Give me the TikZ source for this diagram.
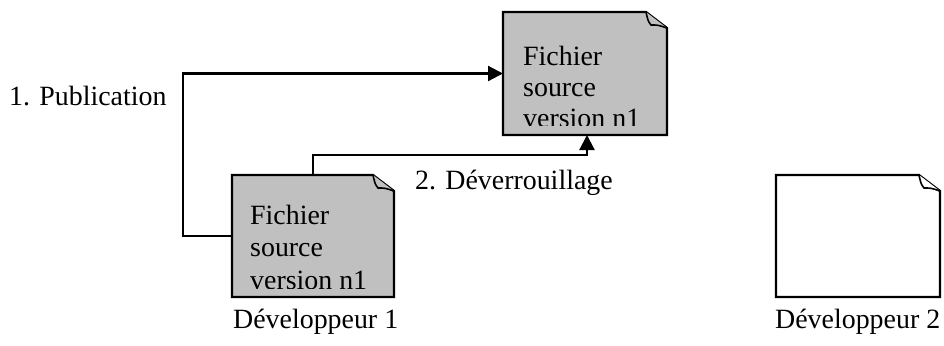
\documentclass[tikz,border=0pt]{standalone}
\usepackage{fontspec}
\setmainfont{Liberation Serif}
\usetikzlibrary{arrows.meta,calc}
\definecolor{docgray}{HTML}{C0C0C0}
\tikzset{
  docnode/.style={inner sep=0pt, outer sep=0pt, draw=none},
  docline/.style={draw=black, line width=2.2bp, line join=miter},
  conn/.style={draw=black, line width=2.2bp, -{Triangle[length=15bp,width=15bp]}},
  lbl/.style={inner sep=0pt, anchor=base west, font=\fontsize{28pt}{32pt}\selectfont},
}
\newcommand\docdraw[2]{% name, fill
  \path[docline, fill=#2] (#1.north west) -- ([xshift=-21bp]#1.north east)
    -- ([yshift=-16bp]#1.north east) -- (#1.south east) -- (#1.south west) -- cycle;
  \path[docline, fill=#2, line width=1.6bp] ([xshift=-21bp]#1.north east)
    .. controls ([xshift=-19bp,yshift=-9bp]#1.north east) .. ([xshift=-16bp,yshift=-13bp]#1.north east)
    .. controls ([xshift=-9bp,yshift=-13bp]#1.north east) .. ([yshift=-16bp]#1.north east);
}
\begin{document}
\begin{tikzpicture}[x=1bp,y=-1bp]
\useasboundingbox (0,0) rectangle (944,345);
% documents
\node[docnode, minimum width=164bp, minimum height=123bp] (d1) at (585,73.5) {};
\node[docnode, minimum width=162bp, minimum height=122bp] (d2) at (313,236) {};
\node[docnode, minimum width=164bp, minimum height=122bp] (d3) at (858,236) {};
\docdraw{d1}{docgray}
\docdraw{d2}{docgray}
\docdraw{d3}{white}
% text inside documents (clipped)
\begin{scope}
  \clip (d1.north west) rectangle ([yshift=10bp]d1.south east);
  \node[lbl] (t1a) at (523,65) {Fichier};
  \node[lbl] (t1b) at (523,96) {source};
  \node[lbl] (t1c) at (523,127) {version n1};
\end{scope}
\begin{scope}
  \clip (d2.north west) rectangle ([yshift=9bp]d2.south east);
  \node[lbl] (t2a) at (250,224) {Fichier};
  \node[lbl] (t2b) at (250,256) {source};
  \node[lbl] (t2c) at (250,289) {version n1};
\end{scope}
% connectors
\draw[conn] (d2.west) -- ++(-49,0) |- (d1.west);
\draw[conn] (d2.north) -- ++(0,-20) -| ([xshift=2bp]d1.south);
% labels
\node[lbl] (l1) at (9,105) {1. Publication};
\node[lbl] (l2) at (415,189) {2. Déverrouillage};
\node[lbl] (l3) at (233,328) {Développeur 1};
\node[lbl] (l4) at (775,328) {Développeur 2};
\end{tikzpicture}
\end{document}
